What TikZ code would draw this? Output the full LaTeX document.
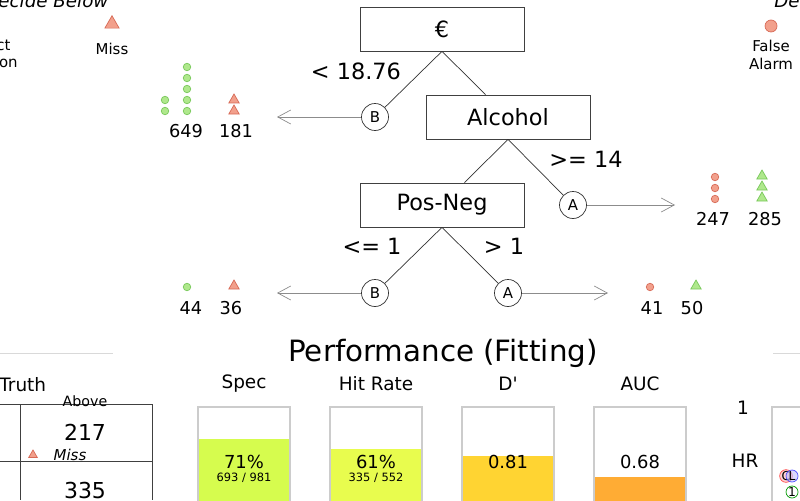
\documentclass[tikz,border=0pt]{standalone}
\usepackage{fontspec}
\setmainfont{DejaVu Sans}
\usetikzlibrary{arrows.meta,shapes.geometric}

\definecolor{dotgreen}{RGB}{175,232,140}
\definecolor{edgegreen}{RGB}{120,200,90}
\definecolor{dotred}{RGB}{242,160,140}
\definecolor{edgered}{RGB}{215,105,85}
\definecolor{specfill}{RGB}{214,252,78}
\definecolor{hitfill}{RGB}{232,252,78}
\definecolor{dprimefill}{RGB}{255,212,50}
\definecolor{aucfill}{RGB}{255,172,52}

\begin{document}
\begin{tikzpicture}[x=0.02cm, y=-0.02cm,
    > = {Straight Barb[length=0.26cm, width=0.28cm]},
    treefont/.style = {font=\fontsize{12.75}{14}\selectfont},
    cuebox/.style = {draw=black!75, treefont, minimum width=3.28cm,
                     minimum height=0.88cm, inner sep=0pt},
    exitball/.style = {draw=black!80, circle, minimum size=0.54cm, inner sep=0pt,
                       font=\fontsize{8.5}{9}\selectfont},
    exitarrow/.style = {->, draw=black!45},
    countfont/.style = {font=\fontsize{10.1}{11}\selectfont},
    crdot/.style = {circle, fill=dotgreen, draw=edgegreen, minimum size=0.15cm, inner sep=0pt},
    fadot/.style = {circle, fill=dotred, draw=edgered, minimum size=0.15cm, inner sep=0pt},
    missmark/.style = {regular polygon, regular polygon sides=3, fill=dotred, draw=edgered,
                       minimum size=0.24cm, inner sep=0pt},
    hitmark/.style = {regular polygon, regular polygon sides=3, fill=dotgreen, draw=edgegreen,
                      minimum size=0.24cm, inner sep=0pt},
    legendfont/.style = {font=\fontsize{8.5}{10.2}\selectfont, align=center},
    labelfont/.style = {font=\fontsize{10.5}{12}\selectfont},
    barbox/.style = {draw=black!20, line width=0.6pt}]

    % Page frame, everything outside is cut off.
    \useasboundingbox (0,0) rectangle (800,500);
    \clip (0,0) rectangle (800,500);

    % Headers and legend of the two exits.
    \node[anchor=south west, font=\fontsize{10.4}{12}\itshape, inner sep=0pt] (decleft) at (-16,8) {Decide Below};
    \node[anchor=south west, font=\fontsize{10.4}{12}\itshape, inner sep=0pt] (decright) at (774,8) {Decide Above};
    \node[legendfont, anchor=east, inner sep=0pt] (crlegend) at (18,55) {Correct\\Rejection};
    \node[missmark, minimum size=0.33cm] (misslegend) at (112,24) {};
    \node[legendfont] (misstext) at (112,49) {Miss};
    \node[fadot, minimum size=0.24cm] (falegend) at (771,26) {};
    \node[legendfont] (fatext) at (771,55) {False\\Alarm};

    % Cue boxes of the tree.
    \node[cuebox] (euro) at (442,29) {€};
    \node[cuebox] (alcohol) at (508,117) {Alcohol};
    \node[cuebox] (posneg) at (442,205) {Pos-Neg};

    % Exit balls.
    \node[exitball] (exitb1) at (375,117) {B};
    \node[exitball] (exita1) at (573,205) {A};
    \node[exitball] (exitb2) at (375,293) {B};
    \node[exitball] (exita2) at (508,293) {A};

    % Branches between the cues and the exits.
    \draw[black!80] (euro.south) -- (exitb1);
    \draw[black!80] (euro.south) -- (alcohol);
    \draw[black!80] (alcohol.south) -- (posneg);
    \draw[black!80] (alcohol.south) -- (exita1);
    \draw[black!80] (posneg.south) -- (exitb2);
    \draw[black!80] (posneg.south) -- (exita2);

    % Thresholds on the branches.
    \node[treefont] (thr1) at (356,71) {< 18.76};
    \node[treefont] (thr2) at (586,159) {>= 14};
    \node[treefont] (thr3) at (372,246) {<= 1};
    \node[treefont] (thr4) at (504,246) {> 1};

    % Arrows out of the exits.
    \coordinate (endb1) at (277,117);
    \coordinate (enda1) at (675,205);
    \coordinate (endb2) at (277,293);
    \coordinate (enda2) at (608,293);
    \draw[exitarrow] (exitb1) -- (endb1);
    \draw[exitarrow] (exita1) -- (enda1);
    \draw[exitarrow] (exitb2) -- (endb2);
    \draw[exitarrow] (exita2) -- (enda2);

    % Icons for the cases in each exit.
    \foreach \y in {67, 78, ..., 111}
        \node[crdot] (cr1-\y) at (187,\y) {};
    \foreach \y in {100, 111}{
        \node[crdot] (cr0-\y) at (165,\y) {};
        \node[missmark] (miss1-\y) at (234,\y) {};
    }
    \foreach \y in {177, 188, 199}{
        \node[fadot] (fa1-\y) at (715,\y) {};
        \node[hitmark] (hit1-\y) at (762,\y-1) {};
    }
    \node[crdot] (cr2) at (187,287) {};
    \node[missmark] (miss2) at (234,286) {};
    \node[fadot] (fa2) at (650,287) {};
    \node[hitmark] (hit2) at (696,286) {};

    % Counts under the icons.
    \node[countfont] (n649) at (186,131) {649};
    \node[countfont] (n181) at (236,131) {181};
    \node[countfont] (n247) at (713,219) {247};
    \node[countfont] (n285) at (765,219) {285};
    \node[countfont] (n44) at (191,308) {44};
    \node[countfont] (n36) at (231,308) {36};
    \node[countfont] (n41) at (652,308) {41};
    \node[countfont] (n50) at (692,308) {50};

    % Title of the lower panel.
    \node[font=\fontsize{16.7}{19}\selectfont] (perf) at (443,353) {Performance (Fitting)};
    \draw[black!15] (0,353) -- (113,353);
    \draw[black!15] (773,353) -- (800,353);

    % Confusion table.
    \node[labelfont, anchor=west, inner sep=0pt] (truth) at (-1,385) {Truth};
    \draw[black!75] (0,404) -- (152,404) -- (152,500);
    \draw[black!75] (20,404) -- (20,500);
    \draw[black!75] (0,461) -- (152,461);
    \node[font=\fontsize{8.1}{9}\selectfont] (above) at (85,401) {Above};
    \node[font=\fontsize{12.5}{14}\selectfont] (n217) at (85,432) {217};
    \node[font=\fontsize{12.5}{14}\selectfont] (n335) at (85,490) {335};
    \node[missmark, minimum size=0.2cm] (missicon) at (33,455) {};
    \node[legendfont, font=\fontsize{8.5}{10}\itshape] (misscell) at (70,455) {Miss};

    % Bars with the accuracy statistics.
    \foreach \x/\top/\col/\name in {198/439/specfill/Spec, 330/449/hitfill/Hit Rate,
                                    462/456/dprimefill/D\textquotesingle, 594/477/aucfill/AUC}{
        \fill[\col] (\x,\top) rectangle (\x+92,502);
        \draw[barbox] (\x,502) -- (\x,407) -- (\x+92,407) -- (\x+92,502);
        \node[labelfont] (lab-\x) at (\x+46,384) {\name};
    }
    \node[font=\fontsize{10.2}{12}\selectfont] (spec) at (244,462) {71\%};
    \node[font=\fontsize{6.5}{8}\selectfont] (specfrac) at (244,478) {693 / 981};
    \node[font=\fontsize{10.2}{12}\selectfont] (hr) at (376,462) {61\%};
    \node[font=\fontsize{6.5}{8}\selectfont] (hrfrac) at (376,478) {335 / 552};
    \node[font=\fontsize{10.2}{12}\selectfont] (dprime) at (508,462) {0.81};
    \node[font=\fontsize{10.2}{12}\selectfont] (auc) at (640,462) {0.68};

    % Corner of the ROC plot.
    \node[labelfont] (one) at (743,408) {1};
    \node[labelfont] (hrlab) at (745,461) {HR};
    \draw[barbox] (772,502) -- (772,407) -- (802,407);
    \node[circle, draw=red!70, fill=red!30, fill opacity=0.6, minimum size=0.24cm,
          inner sep=0pt, font=\fontsize{7}{8}\selectfont, text opacity=1] (cart) at (786,476) {C};
    \node[circle, draw=blue!70, fill=blue!25, fill opacity=0.6, minimum size=0.24cm,
          inner sep=0pt, font=\fontsize{7}{8}\selectfont, text opacity=1] (lr) at (792,476) {L};
    \node[circle, draw=green!60!black, fill=white, minimum size=0.24cm,
          inner sep=0pt, font=\fontsize{7}{8}\selectfont] (fft) at (792,492) {1};
\end{tikzpicture}
\end{document}
